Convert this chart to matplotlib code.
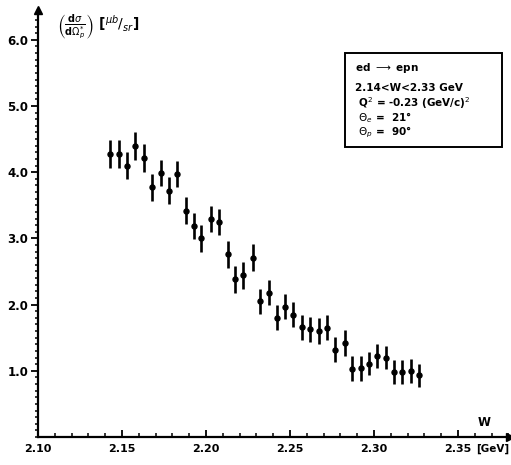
import numpy as np
import matplotlib.pyplot as plt
from matplotlib.ticker import MultipleLocator, FixedLocator

# W values [GeV] and cross section [ub/sr]
w = [2.143, 2.148, 2.153, 2.158, 2.163, 2.168, 2.173, 2.178, 2.183, 2.188,
     2.193, 2.197, 2.203, 2.208, 2.213, 2.217, 2.222, 2.228, 2.232, 2.2375,
     2.242, 2.247, 2.252, 2.257, 2.262, 2.267, 2.272, 2.277, 2.283, 2.287,
     2.292, 2.297, 2.302, 2.307, 2.312, 2.317, 2.322, 2.327]
sigma = [4.28, 4.28, 4.10, 4.40, 4.21, 3.77, 3.99, 3.72, 3.97, 3.42,
         3.19, 3.00, 3.29, 3.25, 2.76, 2.38, 2.44, 2.71, 2.05, 2.18,
         1.80, 1.97, 1.85, 1.66, 1.63, 1.60, 1.65, 1.32, 1.42, 1.03,
         1.04, 1.11, 1.22, 1.20, 0.98, 0.98, 1.00, 0.93]
err = [0.21, 0.21, 0.21, 0.21, 0.21, 0.20, 0.20, 0.20, 0.20, 0.20,
       0.20, 0.20, 0.20, 0.20, 0.20, 0.20, 0.20, 0.20, 0.19, 0.19,
       0.19, 0.19, 0.19, 0.19, 0.19, 0.19, 0.19, 0.19, 0.19, 0.19,
       0.19, 0.18, 0.18, 0.18, 0.18, 0.18, 0.18, 0.18]

x_ticks = [2.10, 2.15, 2.20, 2.25, 2.30, 2.35]
x_labels = ["2.10", "2.15", "2.20", "2.25", "2.30", "2.35"]
y_ticks = [1.0, 2.0, 3.0, 4.0, 5.0, 6.0]
y_labels = ["1.0", "2.0", "3.0", "4.0", "5.0", "6.0"]

box_lines = [r"ed $\longrightarrow$ epn",
             "2.14<W<2.33 GeV",
             r" Q$^2$ = -0.23 (GeV/c)$^2$",
             r" $\Theta_e$ =  21°",
             r" $\Theta_p$ =  90°"]

plt.rcParams['font.family'] = 'DejaVu Sans'
plt.rcParams['mathtext.fontset'] = 'dejavusans'

fig = plt.figure(figsize=(5.11, 4.65), dpi=100)
ax = fig.add_axes([38 / 511, 28 / 465, 472 / 511, 427 / 465])

ax.errorbar(w, sigma, yerr=err, fmt='o', color='black', ms=3.6,
            elinewidth=1.9, capsize=0)

ax.set_xlim(2.10, 2.381)
ax.set_ylim(0, 6.45)

for s in ['top', 'right']:
    ax.spines[s].set_visible(False)
for s in ['left', 'bottom']:
    ax.spines[s].set_linewidth(1.6)

# arrow heads on the axes
ax.plot(1, 0, ">k", ms=6, transform=ax.transAxes, clip_on=False)
ax.plot(0, 1, "^k", ms=6, transform=ax.transAxes, clip_on=False)

ax.xaxis.set_major_locator(FixedLocator(x_ticks))
ax.set_xticklabels(x_labels, fontsize=8, fontweight='bold')
ax.xaxis.set_minor_locator(MultipleLocator(0.01))
ax.yaxis.set_major_locator(FixedLocator(y_ticks))
ax.set_yticklabels(y_labels, fontsize=8.5, fontweight='bold')
ax.yaxis.set_minor_locator(MultipleLocator(0.1))

ax.tick_params(axis='x', which='major', direction='in', length=5, width=1.3, pad=5)
ax.tick_params(axis='x', which='minor', direction='in', length=3, width=1.1)
ax.tick_params(axis='y', which='major', direction='out', length=5, width=1.3, pad=2)
ax.tick_params(axis='y', which='minor', direction='out', length=2.5, width=1.1)

fig.text(509 / 511, 1 - 449 / 465, "[GeV]", fontsize=7.5, fontweight='bold',
         va='center', ha='right')
ax.text(2.3655, 0.12, "W", fontsize=8.5, fontweight='bold', ha='center', va='bottom')

fig.text(57 / 511, 1 - 27 / 465,
         r"$\left(\frac{\mathbf{d}\sigma}{\mathbf{d}\Omega_{p}^{*}}\right)$ [$^{\mu b}/_{sr}$]",
         fontsize=10, fontweight='bold', va='center', ha='left')

# info box
fig.patches.append(plt.Rectangle((345 / 511, 1 - 147 / 465), 157 / 511, 94 / 465,
                                 transform=fig.transFigure, fill=False,
                                 edgecolor='black', linewidth=1.4))
ys = [68, 88, 103, 118, 132]
for line, yp in zip(box_lines, ys):
    fig.text(355 / 511, 1 - yp / 465, line, fontsize=7.5, fontweight='bold',
             va='center', ha='left')

fig.savefig("out.png", dpi=100)
